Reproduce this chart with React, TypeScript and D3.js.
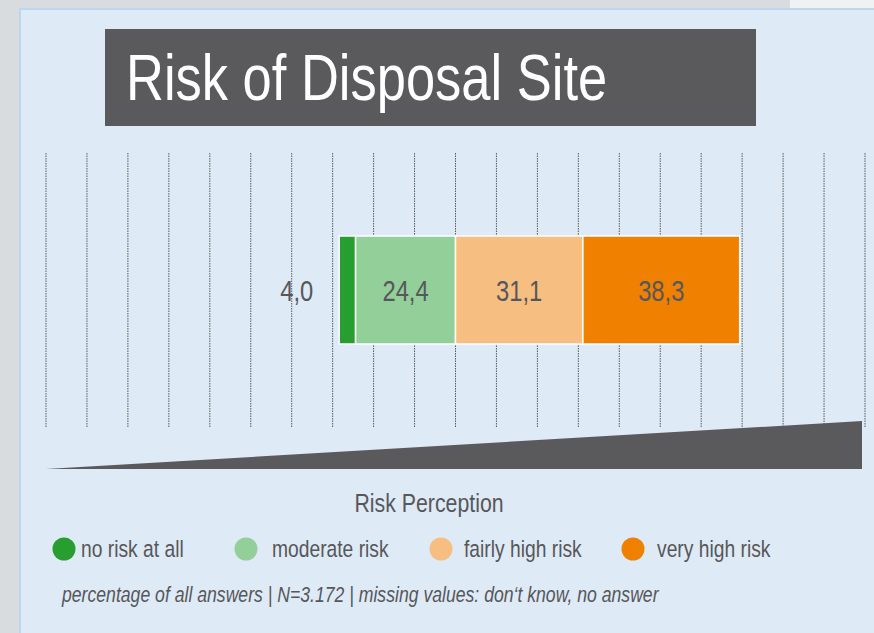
import React from "react";
import * as d3 from "d3";

const categories = ["no risk at all", "moderate risk", "fairly high risk", "very high risk"];
const values = [4.0, 24.4, 31.1, 38.3];
const sides = [-1, -1, 1, 1];
const colors = ["#279e2f", "#93cf98", "#f6be80", "#ef8000"];
const gridTicks = d3.range(-100, 101, 10);
const title = "Risk of Disposal Site";
const axisTitle = "Risk Perception";
const footnote = "percentage of all answers | N=3.172 | missing values: don‘t know, no answer";

const W = 874;
const H = 633;
const FONT = "'Liberation Sans', Arial, sans-serif";
const TEXT = "#57575a";
const NARROW = 0.82;

function NText(props: {
  x: number;
  y: number;
  size: number;
  anchor?: string;
  fill?: string;
  italic?: boolean;
  sx?: number;
  children: React.ReactNode;
}) {
  const { x, y, size, anchor, fill, italic, sx, children } = props;
  return (
    <text
      transform={`translate(${x},${y}) scale(${sx ?? NARROW},1)`}
      textAnchor={anchor ?? "start"}
      fill={fill ?? TEXT}
      fontFamily={FONT}
      fontSize={size}
      fontStyle={italic ? "italic" : "normal"}
    >
      {children}
    </text>
  );
}

export default function App() {
  const x = d3.scaleLinear().domain([-100, 100]).range([46, 865]);
  const barTop = 236;
  const barH = 108;

  // diverging stack: negatives grow leftward from 0 (closest category first)
  const segs: { x0: number; x1: number; v: number; i: number }[] = [];
  let neg = 0;
  for (let i = values.length - 1; i >= 0; i--) {
    if (sides[i] < 0) {
      const a = neg;
      neg -= values[i];
      segs.push({ x0: x(neg), x1: x(a), v: values[i], i });
    }
  }
  let pos = 0;
  values.forEach((v, i) => {
    if (sides[i] > 0) {
      const a = pos;
      pos += v;
      segs.push({ x0: x(a), x1: x(pos), v, i });
    }
  });
  segs.sort((a, b) => a.i - b.i);
  const fmt = (v: number) => v.toFixed(1).replace(".", ",");

  const legendX = [64, 246, 441, 633];
  const legendTextX = [81, 272, 464, 657];

  return (
    <svg width={W} height={H} style={{ position: "absolute", left: 0, top: 0, display: "block" }}>
      <rect x={0} y={0} width={W} height={H} fill="#d9dcdf" />
      <rect x={790} y={0} width={84} height={9} fill="#eff1f3" />
      <rect x={19} y={8} width={W - 19} height={H - 8} fill="#bcd6ee" />
      <rect x={21} y={10} width={W - 21} height={H - 10} fill="#deeaf6" />

      <rect x={105} y={29} width={651} height={97} fill="#5a5a5c" />
      <NText x={126} y={100} size={64} fill="#ffffff">
        {title}
      </NText>

      {gridTicks.map((t) => (
        <line
          key={t}
          x1={x(t)}
          x2={x(t)}
          y1={153}
          y2={427}
          stroke="#5a5a5c"
          strokeWidth={1}
          strokeDasharray="1.5,1"
        />
      ))}

      {segs.map((s) => (
        <rect
          key={s.i}
          x={s.x0}
          y={barTop}
          width={s.x1 - s.x0}
          height={barH}
          fill={colors[s.i]}
          stroke="#ffffff"
          strokeWidth={1.5}
        />
      ))}
      {segs.map((s) =>
        s.x1 - s.x0 > 40 ? (
          <NText key={"l" + s.i} x={(s.x0 + s.x1) / 2} y={barTop + barH / 2 + 11} anchor="middle" size={29}>
            {fmt(s.v)}
          </NText>
        ) : (
          <NText key={"l" + s.i} x={s.x0 - 26} y={barTop + barH / 2 + 11} anchor="end" size={29}>
            {fmt(s.v)}
          </NText>
        )
      )}

      <polygon points={`${x(-100)},469 ${x(100) - 3},421 ${x(100) - 3},469`} fill="#5a5a5c" />

      <NText x={429} y={512} anchor="middle" size={26}>
        {axisTitle}
      </NText>

      {categories.map((c, i) => (
        <g key={c}>
          <circle cx={legendX[i]} cy={549} r={11.5} fill={colors[i]} />
          <NText x={legendTextX[i]} y={557} size={23.5}>
            {c}
          </NText>
        </g>
      ))}

      <NText x={62} y={602} size={21.5} italic>
        {footnote}
      </NText>
    </svg>
  );
}
